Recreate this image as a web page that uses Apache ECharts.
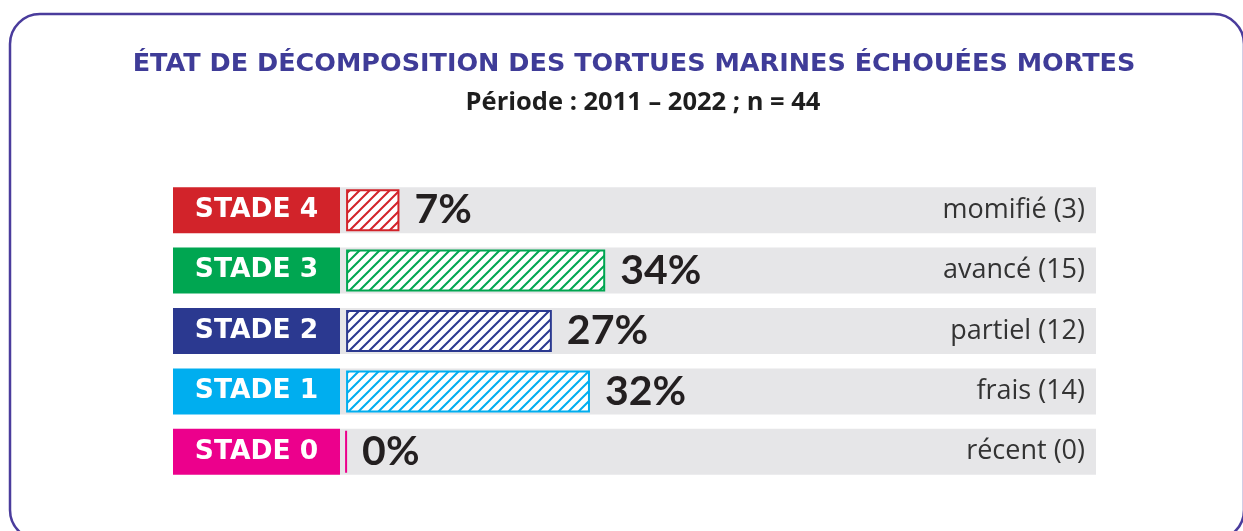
<!DOCTYPE html>
<html>
<head>
<meta charset="utf-8">
<script src="https://cdn.jsdelivr.net/npm/echarts@6/dist/echarts.min.js"></script>
<style>
  html, body { margin: 0; padding: 0; background: #ffffff; }
  #chart { width: 1243px; height: 531px; }
</style>
</head>
<body>
<div id="chart"></div>
<script>
// Decomposition stages, top row first
const stages = ['STADE 4', 'STADE 3', 'STADE 2', 'STADE 1', 'STADE 0'];
const states = ['momifié', 'avancé', 'partiel', 'frais', 'récent'];
const counts = [3, 15, 12, 14, 0];
const percents = [7, 34, 27, 32, 0];
const stageColors = ['#d2232a', '#00a651', '#2b3990', '#00aeef', '#ec008c'];

const TITLE = 'ÉTAT DE DÉCOMPOSITION DES TORTUES MARINES ÉCHOUÉES MORTES';
const SUBTITLE = 'Période : 2011 – 2022 ; n = 44';

// Diagonal hatch tile for the bars
function hatch(color) {
  const c = document.createElement('canvas');
  c.width = 10; c.height = 10;
  const ctx = c.getContext('2d');
  ctx.fillStyle = '#ffffff';
  ctx.fillRect(0, 0, 10, 10);
  ctx.strokeStyle = color;
  ctx.lineWidth = 2;
  ctx.beginPath();
  ctx.moveTo(-5, 5); ctx.lineTo(5, -5);
  ctx.moveTo(0, 10); ctx.lineTo(10, 0);
  ctx.moveTo(5, 15); ctx.lineTo(15, 5);
  ctx.stroke();
  return { image: c, repeat: 'repeat' };
}

// Coloured stage tags on the left axis
const rich = {};
stages.forEach((s, i) => {
  rich['s' + i] = {
    backgroundColor: stageColors[i],
    color: '#ffffff',
    fontFamily: 'DejaVu Sans',
    fontWeight: 'bold',
    fontSize: 26.5,
    width: 167,
    height: 46,
    lineHeight: 46,
    align: 'center'
  };
});

const chart = echarts.init(document.getElementById('chart'), null, { renderer: 'canvas' });

chart.setOption({
  animation: false,
  backgroundColor: '#ffffff',
  graphic: [{
    type: 'rect',
    shape: { x: 10, y: 14, width: 1234, height: 526, r: 30 },
    style: { fill: 'none', stroke: '#4a3c9c', lineWidth: 2.5 },
    z: 10
  }, {
    type: 'text',
    x: 634,
    y: 64,
    style: {
      text: TITLE,
      fill: '#3f3c98',
      font: 'bold 25.5px "DejaVu Sans"',
      textAlign: 'center',
      textVerticalAlign: 'middle'
    }
  }, {
    type: 'text',
    x: 643,
    y: 103,
    style: {
      text: SUBTITLE,
      fill: '#1e1e1e',
      font: 'bold 25.5px "Open Sans"',
      textAlign: 'center',
      textVerticalAlign: 'middle'
    }
  }],
  grid: { left: 340, right: 147, top: 180, bottom: 49, containLabel: false },
  xAxis: {
    type: 'value',
    min: -0.8,
    max: 98.4,
    show: false
  },
  yAxis: [{
    type: 'category',
    data: stages,
    inverse: true,
    position: 'left',
    axisLine: { show: false },
    axisTick: { show: false },
    axisLabel: {
      margin: 0,
      formatter: (v) => '{s' + stages.indexOf(v) + '|' + v + '}',
      rich: rich
    }
  }, {
    type: 'category',
    data: states.map((s, i) => s + ' (' + counts[i] + ')'),
    inverse: true,
    position: 'right',
    z: 10,
    axisLine: { show: false },
    axisTick: { show: false },
    axisLabel: {
      inside: true,
      margin: 11,
      color: '#333333',
      fontFamily: 'Open Sans',
      fontSize: 27
    }
  }],
  series: [{
    // grey track behind each bar
    type: 'bar',
    yAxisIndex: 0,
    barWidth: 46,
    data: percents,
    itemStyle: { color: 'rgba(0,0,0,0)' },
    showBackground: true,
    backgroundStyle: { color: '#e6e6e8' },
    silent: true,
    z: 1
  }, {
    type: 'bar',
    yAxisIndex: 1,
    barWidth: 42,
    data: percents.map((v, i) => ({
      value: v,
      itemStyle: { color: hatch(stageColors[i]), borderColor: stageColors[i], borderWidth: 2 }
    })),
    label: {
      show: true,
      position: 'right',
      distance: 15,
      formatter: '{c}%',
      color: '#231f20',
      fontFamily: 'Lato',
      fontWeight: 'bold',
      fontSize: 41
    },
    z: 3
  }]
});
</script>
</body>
</html>
